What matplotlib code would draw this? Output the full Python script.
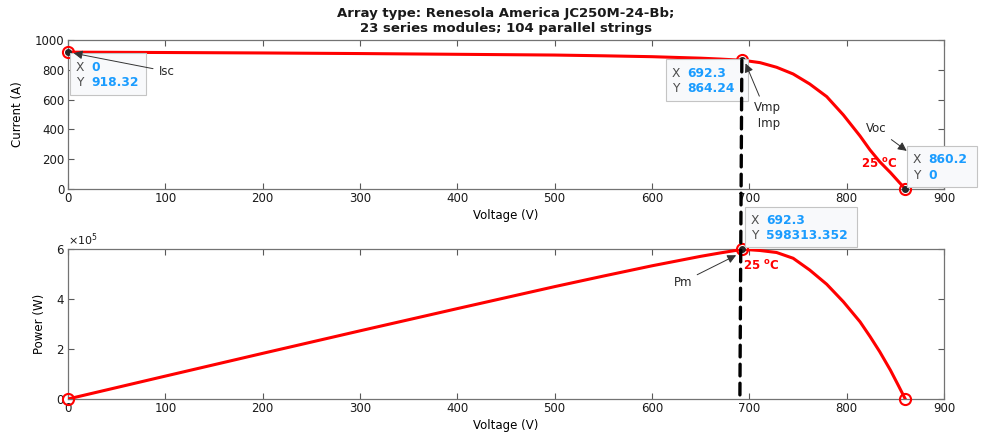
import matplotlib
matplotlib.use('Agg')
import matplotlib.pyplot as plt
from matplotlib.patches import Rectangle, ConnectionPatch
from matplotlib.ticker import ScalarFormatter

## Data
voltage = [0, 100, 200, 300, 400, 500, 550, 600, 650, 670, 692.3, 700, 711,
           728, 745, 762, 779.5, 796.6, 813.7, 824, 834, 845, 853, 860.2]
current = [918.32, 916, 913, 909, 904, 899, 894, 888, 878, 872, 864.24, 858,
           848, 817, 772, 705, 620, 497, 356, 262, 183, 110, 52, 0]
power = [0, 91600, 182600, 272700, 361600, 449500, 491700, 532800, 570700,
         584200, 598313.352, 597000, 594000, 586000, 563000, 516000, 459000,
         389000, 309000, 250000, 189000, 115000, 55000, 0]

isc = (0, 918.32)
mpp_iv = (692.3, 864.24)
voc = (860.2, 0)
mpp_pv = (692.3, 598313.352)

title = 'Array type: Renesola America JC250M-24-Bb;\n23 series modules; 104 parallel strings'

plt.rcParams['font.family'] = ['DejaVu Sans']
plt.rcParams['font.size'] = 8.5

W, H = 984, 437
fig = plt.figure(figsize=(W / 100, H / 100), dpi=100)


def px(x, y):
    return x / W, 1 - y / H


ax1 = fig.add_axes([68 / W, 1 - 189 / H, 876 / W, 149 / H])
ax2 = fig.add_axes([68 / W, 1 - 399 / H, 876 / W, 150 / H])

for ax in (ax1, ax2):
    ax.set_xlim(0, 900)
    ax.set_xticks(range(0, 901, 100))
    ax.tick_params(direction='in', top=True, right=True, length=4,
                   color='0.35', labelcolor='0.1', labelsize=8.5, pad=2.5)
    for s in ax.spines.values():
        s.set_color('0.45')
        s.set_linewidth(0.9)

## I-V curve
ax1.plot(voltage, current, color='red', lw=2.2, zorder=3)
ax1.set_ylim(0, 1000)
ax1.set_yticks(range(0, 1001, 200))
ax1.set_xlabel('Voltage (V)')
ax1.set_ylabel('Current (A)')
ax1.xaxis.set_label_coords(0.5, -0.135)
ax1.yaxis.set_label_coords(-0.050, 0.5)
fig.text(*px(506, 21), title, fontweight='bold', fontsize=9.5, ha='center',
         va='center', linespacing=1.2, color='0.1')

## P-V curve
ax2.plot(voltage, power, color='red', lw=2.2, zorder=3)
ax2.set_ylim(0, 6e5)
ax2.set_yticks([0, 2e5, 4e5, 6e5])
fmt = ScalarFormatter(useMathText=True)
fmt.set_powerlimits((0, 0))
ax2.yaxis.set_major_formatter(fmt)
ax2.yaxis.get_offset_text().set_fontsize(8)
ax2.set_xlabel('Voltage (V)')
ax2.set_ylabel('Power (W)')
ax2.xaxis.set_label_coords(0.5, -0.133)
ax2.yaxis.set_label_coords(-0.025, 0.5)

# end markers
for ax, pts in ((ax1, [isc, mpp_iv, voc]), (ax2, [(0, 0), mpp_pv, voc])):
    for p in pts:
        ax.plot(*p, 'o', mfc='none', mec='red', ms=8, mew=1.5,
                clip_on=False, zorder=4)
for ax, pts in ((ax1, [isc, mpp_iv, voc]), (ax2, [mpp_pv])):
    for p in pts:
        ax.plot(*p, 'o', color='0.15', ms=4, clip_on=False, zorder=5)

## dashed line from Vmp down to the power axis
con = ConnectionPatch(xyA=mpp_iv, coordsA=ax1.transData,
                      xyB=(mpp_pv[0] - 2, 0), coordsB=ax2.transData,
                      color='black', lw=2.4, linestyle=(0, (3.5, 2.2)), zorder=6)
fig.add_artist(con)

## annotations
arrow = dict(arrowstyle='-|>', color='0.2', lw=0.7, mutation_scale=13,
             shrinkA=2, shrinkB=2)
ax1.annotate('Isc', xy=(3, 915), xytext=(93, 790), ha='left', va='center',
             color='0.15', arrowprops=arrow, zorder=10)
ax1.annotate('Vmp\n Imp', xy=(695, 860), xytext=(705, 490), ha='left',
             va='center', color='0.15', arrowprops=arrow, linespacing=1.3,
             zorder=10)
ax1.annotate('Voc', xy=(864, 245), xytext=(820, 405), ha='left', va='center',
             color='0.15', arrowprops=arrow, zorder=10)
ax1.text(815, 170, '25 $^{\\mathregular{o}}$C', color='red', fontweight='bold',
         ha='left', va='center', zorder=7)
ax2.text(693, 533000, '25 $^{\\mathregular{o}}$C', color='red',
         fontweight='bold', ha='left', va='center', zorder=7)
ax2.annotate('Pm', xy=(689, 580000), xytext=(622, 468000), ha='left',
             va='center', color='0.15', arrowprops=arrow, zorder=10)


## data tips
def datatip(ax, x0, y0, x1, y1, xval, yval):
    fx0, fy1 = px(x0, y1)
    fx1, fy0 = px(x1, y0)
    ax.add_patch(Rectangle((fx0, fy1), fx1 - fx0, fy0 - fy1,
                           transform=fig.transFigure, facecolor='#f8f9fb',
                           edgecolor='#c4c4c4', lw=0.8, zorder=8,
                           clip_on=False))
    rows = [('X', xval, y0 + (y1 - y0) * 0.34),
            ('Y', yval, y0 + (y1 - y0) * 0.71)]
    for lab, val, ty in rows:
        ax.text(*px(x0 + 6, ty), lab, color='0.3', fontsize=8.8,
                ha='left', va='center', zorder=9, transform=fig.transFigure)
        ax.text(*px(x0 + 21, ty), val, color='#1a9cff', fontsize=8.8,
                fontweight='bold', ha='left', va='center', zorder=9,
                transform=fig.transFigure)


datatip(ax1, 70, 53, 146, 95, '0', '918.32')
datatip(ax1, 666, 59, 748, 101, '692.3', '864.24')
datatip(ax1, 907, 146, 977, 187, '860.2', '0')
datatip(ax2, 745, 207, 857, 247, '692.3', '598313.352')

fig.savefig('out.png', dpi=100)
